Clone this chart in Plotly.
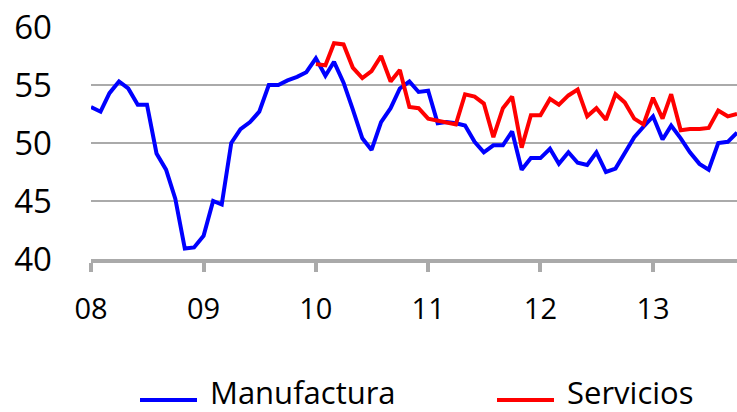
import pandas as pd
import plotly.graph_objs as go

# monthly PMI readings, Jan 2008 onwards
manufactura = [
    53.1, 52.7, 54.3, 55.3, 54.7, 53.3, 53.3, 49.1, 47.7, 45.2, 40.9, 41.0,
    42.0, 45.0, 44.7, 50.0, 51.2, 51.8, 52.7, 55.0, 55.0, 55.4, 55.7, 56.1,
    57.3, 55.8, 57.0, 55.2, 52.9, 50.4, 49.4, 51.8, 53.0, 54.7, 55.3, 54.4,
    54.5, 51.7, 51.8, 51.7, 51.5, 50.1, 49.2, 49.8, 49.8, 51.0, 47.7, 48.7,
    48.7, 49.5, 48.2, 49.2, 48.3, 48.1, 49.2, 47.5, 47.8, 49.2, 50.5, 51.4,
    52.3, 50.3, 51.5, 50.4, 49.2, 48.2, 47.7, 50.0, 50.1, 50.9,
]
# services series starts Jan 2010
servicios = [
    56.8, 56.7, 58.6, 58.5, 56.5, 55.6, 56.2, 57.5, 55.3, 56.3, 53.1, 53.0,
    52.1, 51.9, 51.8, 51.6, 54.2, 54.0, 53.4, 50.5, 53.0, 54.0, 49.6, 52.4,
    52.4, 53.8, 53.3, 54.1, 54.6, 52.3, 53.0, 52.0, 54.2, 53.5, 52.1, 51.6,
    53.9, 52.1, 54.2, 51.1, 51.2, 51.2, 51.3, 52.8, 52.3, 52.5,
]
y_ticks = [40, 45, 50, 55, 60]

dates_m = pd.date_range("2008-01-01", periods=len(manufactura), freq="MS")
dates_s = pd.date_range("2010-01-01", periods=len(servicios), freq="MS")

font_name = "Open Sans"
series = [
    ("Manufactura", dates_m, manufactura, "#0000ff"),
    ("Servicios", dates_s, servicios, "#ff0000"),
]

fig = go.Figure()
for name, xs, ys, color in series:
    fig.add_trace(go.Scatter(
        x=xs, y=ys, mode="lines", name=name,
        line=dict(color=color, width=4), showlegend=False,
    ))

# legend drawn by hand below the plot, to get the long swatches
plot_l, plot_w, plot_b, plot_h = 91, 646, 259, 232
legend_items = [("Manufactura", "#0000ff", 140), ("Servicios", "#ff0000", 497)]
for name, color, px in legend_items:
    fig.add_shape(
        type="line", xref="paper", yref="paper",
        x0=(px - plot_l) / plot_w, x1=(px + 57 - plot_l) / plot_w,
        y0=(plot_b - 400) / plot_h, y1=(plot_b - 400) / plot_h,
        line=dict(color=color, width=4),
    )
    fig.add_annotation(
        xref="paper", yref="paper", x=(px + 68 - plot_l) / plot_w,
        y=(plot_b - 392) / plot_h, xanchor="left", yanchor="middle",
        text=name, showarrow=False, font=dict(size=31, color="black"),
    )

fig.update_layout(
    width=737, height=412,
    margin=dict(l=plot_l, r=0, t=27, b=412 - plot_b),
    paper_bgcolor="white", plot_bgcolor="white",
    font=dict(family=font_name, size=32, color="black"),
    showlegend=False,
)
fig.update_xaxes(
    range=["2008-01-01", "2013-10-01"],
    tickformat="%y", dtick="M12", tick0="2008-01-01",
    showgrid=False, showline=True, linecolor="#aaaaaa", linewidth=4,
    ticks="outside", ticklen=9, tickwidth=4, tickcolor="#aaaaaa",
    ticklabelstandoff=12, tickfont=dict(size=29), automargin=False,
)
fig.update_yaxes(
    range=[40, 60], tickvals=y_ticks,
    showgrid=True, gridcolor="#aaaaaa", gridwidth=2,
    zeroline=False, showline=False, ticks="", ticklabelstandoff=38,
    tickfont=dict(size=33), automargin=False,
)

# drop the default page margin so the figure sits at the window corner
fig.write_html(
    "out.html",
    config={"displayModeBar": False},
    post_script="document.body.style.margin = '0';",
)
